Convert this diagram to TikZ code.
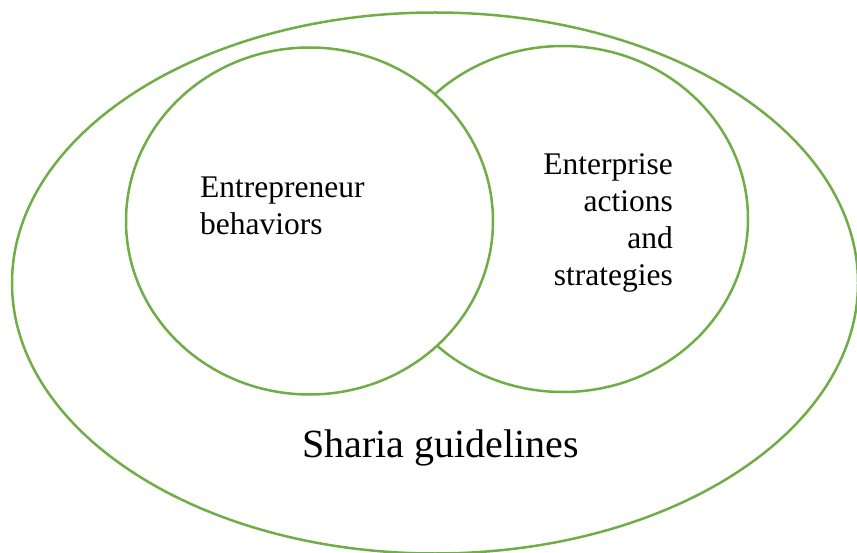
\documentclass[tikz,border=0pt]{standalone}
\usepackage{fontspec}
\setmainfont{Liberation Serif}
\usetikzlibrary{shapes.geometric}
\definecolor{ringgreen}{HTML}{70AD47}
\begin{document}
\begin{tikzpicture}[x=1pt,y=-1pt,
  ring/.style={ellipse,draw=ringgreen,line width=2.5pt,inner sep=0pt,outer sep=0pt},
  label/.style={inner sep=0pt,font=\fontsize{31.5}{37}\selectfont}]
\useasboundingbox (0,0) rectangle (857,553);
\begin{scope}
\clip (0,0) rectangle (857,553);
% outer ellipse: the frame of guidelines
\node[ring,minimum width=846pt,minimum height=541pt] (sharia) at (435,283) {};
% right circle, partly covered by the left one
\node[ring,minimum width=370pt,minimum height=346pt] (enterprise) at (563,219) {};
% left circle, filled white so it sits on top
\node[ring,fill=white,minimum width=367pt,minimum height=347pt] (entrepreneur) at (309.5,221) {};
\end{scope}
% texts (multi-line nodes sit on the baseline of their last line)
\node[label,anchor=base west,align=left] (tleft) at (200,235) {Entrepreneur\\behaviors};
\node[label,anchor=base east,align=right] (tright) at (673,286) {Enterprise\\actions\\and\\strategies};
\node[inner sep=0pt,anchor=base west,font=\fontsize{40}{48}\selectfont] (tsharia) at (302,457) {Sharia guidelines};
\end{tikzpicture}
\end{document}
